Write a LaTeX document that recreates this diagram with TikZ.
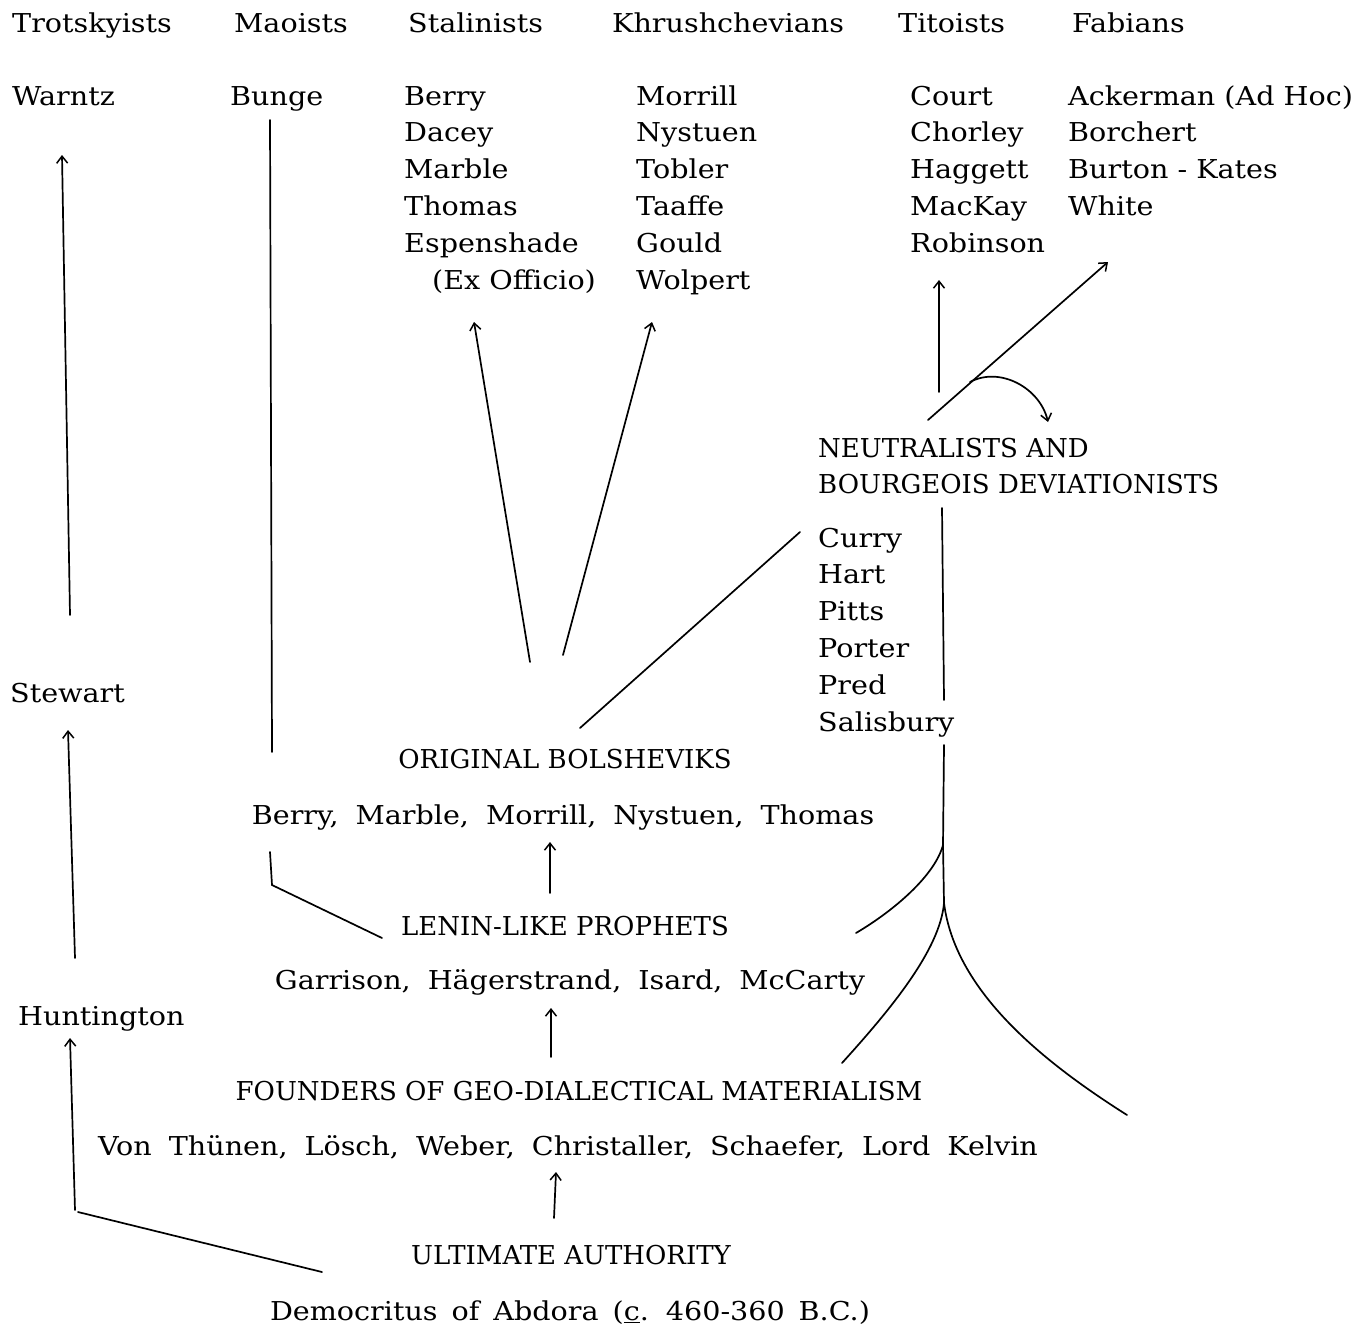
\documentclass[tikz,border=0pt]{standalone}
\usepackage{fontspec}
\setmainfont{DejaVu Serif}
\newfontfamily\lcfont[FakeStretch=1.1]{DejaVu Serif}
\newcommand\wsA{\spaceskip 17pt\relax}
\newcommand\wsB{\spaceskip 14pt\relax}
\usetikzlibrary{arrows.meta}
\begin{document}
\begin{tikzpicture}[x=1pt,y=-1pt,
  txt/.style={inner sep=0pt, font=\fontsize{26}{30}\selectfont},
  lbl/.style={txt, anchor=base west, font=\fontsize{26}{30}\lcfont},
  capl/.style={txt, anchor=base west},
  ctr/.style={txt, anchor=base},
  ctrw/.style={txt, anchor=base, font=\fontsize{26}{30}\lcfont\wsA},
  ln/.style={line width=1.7pt, line cap=round},
  arr/.style={ln, -{Straight Barb[length=7pt,width=11pt,line width=1.5pt]}}]
\useasboundingbox[fill=white] (0,0) rectangle (1364,1328);

% header row
\node[lbl] (h1) at (12,32) {Trotskyists};
\node[lbl] (h2) at (234,32) {Maoists};
\node[lbl] (h3) at (408,32) {Stalinists};
\node[lbl] (h4) at (612,32) {Khrushchevians};
\node[lbl] (h5) at (898,32) {Titoists};
\node[lbl] (h6) at (1072,32) {Fabians};

% second row and lists
\node[lbl] (warntz) at (12,105) {Warntz};
\node[lbl] (bunge) at (230,105) {Bunge};
\foreach \t [count=\i] in {Berry,Dacey,Marble,Thomas,Espenshade}
  \node[lbl] (st\i) at (404,{105+36.8*(\i-1)}) {\t};
\node[lbl] (st6) at (432,289) {(Ex Officio)};
\foreach \t [count=\i] in {Morrill,Nystuen,Tobler,Taaffe,Gould,Wolpert}
  \node[lbl] (kh\i) at (636,{105+36.8*(\i-1)}) {\t};
\foreach \t [count=\i] in {Court,Chorley,Haggett,MacKay,Robinson}
  \node[lbl] (ti\i) at (910,{105+36.8*(\i-1)}) {\t};
\foreach \t [count=\i] in {Ackerman (Ad Hoc),Borchert,Burton - Kates,White}
  \node[lbl] (fa\i) at (1068,{105+36.8*(\i-1)}) {\t};

% neutralists
\node[capl] (neu1) at (818,457) {NEUTRALISTS AND};
\node[capl] (neu2) at (818,493) {BOURGEOIS DEVIATIONISTS};
\foreach \t [count=\i] in {Curry,Hart,Pitts,Porter,Pred,Salisbury}
  \node[lbl] (cu\i) at (818,{547+36.8*(\i-1)}) {\t};

% left column
\node[lbl] (stewart) at (10,702) {Stewart};
\node[lbl] (hunt) at (18,1025) {Huntington};

% central stack
\node[ctr] (ob) at (565,768) {ORIGINAL BOLSHEVIKS};
\node[ctrw] (obn) at (563,824) {Berry, Marble, Morrill, Nystuen, Thomas};
\node[ctr] (llp) at (565,935) {LENIN-LIKE PROPHETS};
\node[ctrw] (llpn) at (570,989) {Garrison, Hägerstrand, Isard, McCarty};
\node[ctr] (fgd) at (579,1100) {FOUNDERS OF GEO-DIALECTICAL MATERIALISM};
\node[ctrw] (fgdn) at (568,1155) {Von Thünen, Lösch, Weber, Christaller, Schaefer, Lord Kelvin};
\node[ctr] (ua) at (571,1264) {ULTIMATE AUTHORITY};
\node[ctrw, font=\fontsize{26}{30}\lcfont\wsB] (uan) at (570,1320) {Democritus of Abdora (\underline{c}. 460-360 B.C.)};

% coordinates
\coordinate (wa1) at (70,615);   \coordinate (wa2) at (62,155);
\coordinate (bu1) at (270,120);  \coordinate (bu2) at (272,752);
\coordinate (sw1) at (75,958);   \coordinate (sw2) at (68,730);
\coordinate (hu1) at (75,1210);  \coordinate (hu2) at (70,1038);
\coordinate (de1) at (78,1212);  \coordinate (de2) at (322,1272);
\coordinate (bl1) at (270,852);  \coordinate (bl2) at (272,885); \coordinate (bl3) at (382,938);
\coordinate (a1a) at (550,893);  \coordinate (a1b) at (550,842);
\coordinate (a2a) at (551,1057); \coordinate (a2b) at (551,1008);
\coordinate (a3a) at (554,1218); \coordinate (a3b) at (556,1172);
\coordinate (f1a) at (530,662);  \coordinate (f1b) at (474,322);
\coordinate (f2a) at (563,655);  \coordinate (f2b) at (652,322);
\coordinate (f3a) at (580,728);  \coordinate (f3b) at (800,532);
\coordinate (t1a) at (939,392);  \coordinate (t1b) at (939,280);
\coordinate (t2a) at (928,420);  \coordinate (t2b) at (1108,262);
\coordinate (cva) at (970,382);  \coordinate (cvb) at (1048,422);
\coordinate (v1a) at (942,508);  \coordinate (v1b) at (944,700);
\coordinate (v2a) at (944,745);  \coordinate (jn) at (943,845);
\coordinate (jn2) at (944,903);
\coordinate (b1) at (856,933);
\coordinate (b2) at (842,1063);
\coordinate (b3) at (1127,1115);

% connectors
\draw[arr] (wa1) -- (wa2);
\draw[ln] (bu1) -- (bu2);
\draw[arr] (sw1) -- (sw2);
\draw[arr] (hu1) -- (hu2);
\draw[ln] (de1) -- (de2);
\draw[ln] (bl1) -- (bl2) -- (bl3);
\draw[arr] (a1a) -- (a1b);
\draw[arr] (a2a) -- (a2b);
\draw[arr] (a3a) -- (a3b);
\draw[arr] (f1a) -- (f1b);
\draw[arr] (f2a) -- (f2b);
\draw[ln] (f3a) -- (f3b);
\draw[arr] (t1a) -- (t1b);
\draw[arr] (t2a) -- (t2b);
\draw[arr] (cva) .. controls (1000,366) and (1040,388) .. (cvb);
\draw[ln] (v1a) -- (v1b);
\draw[ln] (v2a) -- (jn) -- (jn2);
\draw[ln] (jn) .. controls (935,875) and (895,910) .. (b1);
\draw[ln] (jn2) .. controls (940,950) and (890,1010) .. (b2);
\draw[ln] (jn2) .. controls (955,990) and (1040,1060) .. (b3);
\end{tikzpicture}
\end{document}
